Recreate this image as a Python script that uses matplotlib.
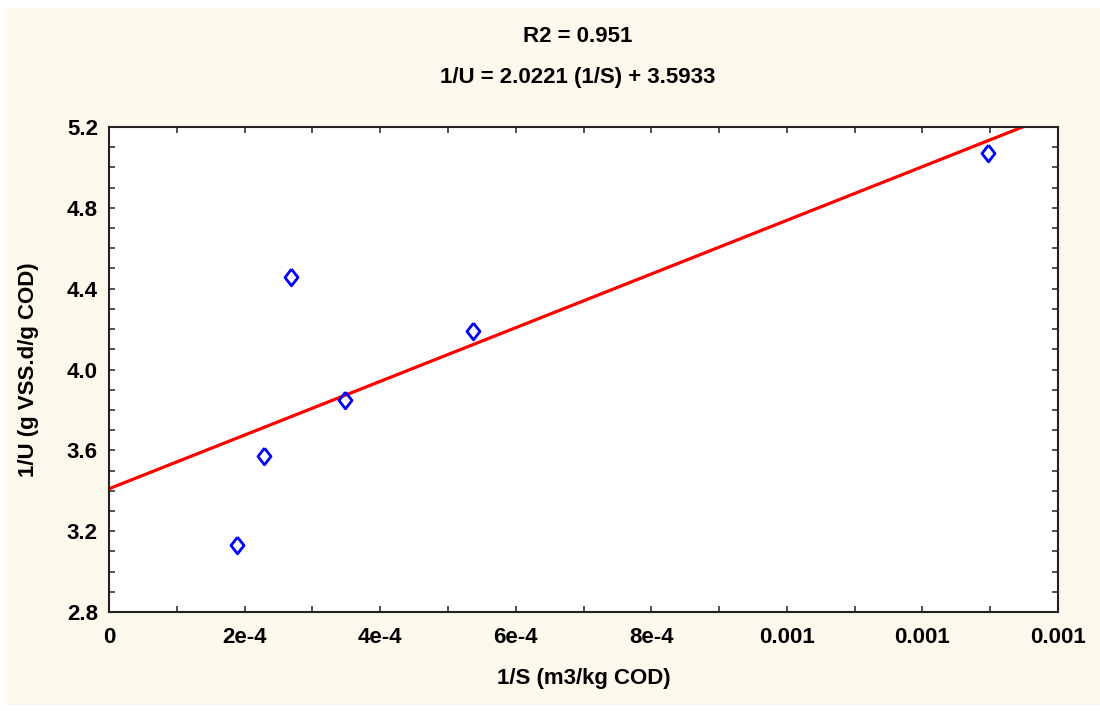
import numpy as np
import matplotlib
matplotlib.use("Agg")
import matplotlib.pyplot as plt
from matplotlib.patches import Rectangle
from matplotlib.ticker import MultipleLocator

# data
inv_s = [1.89e-4, 2.29e-4, 2.69e-4, 3.48e-4, 5.37e-4, 1.297e-3]
inv_u = [3.13, 3.57, 4.46, 3.85, 4.19, 5.07]
xtick_vals = [0, 2e-4, 4e-4, 6e-4, 8e-4, 1.0e-3, 1.2e-3, 1.4e-3]
xtick_labels = ["0", "2e-4", "4e-4", "6e-4", "8e-4", "0.001", "0.001", "0.001"]
ytick_vals = [2.8, 3.2, 3.6, 4.0, 4.4, 4.8, 5.2]
title1 = "R2 = 0.951"
title2 = "1/U = 2.0221 (1/S) + 3.5933"

palette = {"bg": "#FDF8EC", "line": "#FF0000", "marker": "#0000FF"}
plt.rcParams["font.family"] = ["Liberation Sans", "DejaVu Sans"]
plt.rcParams["font.weight"] = "bold"

fig = plt.figure(figsize=(11, 7.11), dpi=100, facecolor="white")
fig.patches.append(Rectangle((6/1100, 6/711), 1 - 6/1100, 1 - 14/711,
                             transform=fig.transFigure, facecolor=palette["bg"],
                             edgecolor="none", zorder=-10))
ax = fig.add_axes([109/1100, 1 - 612/711, (1058 - 109)/1100, (612 - 127)/711])
ax.set_facecolor("white")

# least squares line through the points
slope, icpt = np.polyfit(inv_s, inv_u, 1)
xs = np.linspace(0, 1.4e-3, 200)
ax.plot(xs, slope * xs + icpt, color=palette["line"], lw=2.3, zorder=2)

diamond = [(0, 1), (0.78, 0), (0, -1), (-0.78, 0), (0, 1)]
ax.plot(inv_s, inv_u, linestyle="none", marker=diamond, ms=12, mew=2,
        mfc="none", mec=palette["marker"], zorder=3)

ax.set_xlim(0, 1.4e-3)
ax.set_ylim(2.8, 5.2)
ax.set_xticks(xtick_vals)
ax.set_xticklabels(xtick_labels)
ax.set_yticks(ytick_vals)
ax.set_yticklabels([f"{v:.1f}" for v in ytick_vals])
ax.xaxis.set_minor_locator(MultipleLocator(1e-4))
ax.yaxis.set_minor_locator(MultipleLocator(0.1))
ax.tick_params(which="both", direction="in", top=True, right=True,
               length=4, width=1.2, color="#333333")
ax.tick_params(axis="x", which="major", labelsize=16, pad=11)
ax.tick_params(axis="y", which="major", labelsize=16, pad=8)
for s in ax.spines.values():
    s.set_linewidth(1.5)
    s.set_color("#222222")

ax.set_xlabel("1/S (m3/kg COD)", fontsize=16, fontweight="bold", labelpad=14)
ax.set_ylabel("1/U (g VSS.d/g COD)", fontsize=16, fontweight="bold", labelpad=20)

fig.text(0.525, 1 - 37/711, title1, ha="center", va="center", fontsize=16, fontweight="bold")
fig.text(0.525, 1 - 77/711, title2, ha="center", va="center", fontsize=16, fontweight="bold")

fig.savefig("out.png", dpi=100, facecolor=fig.get_facecolor())
